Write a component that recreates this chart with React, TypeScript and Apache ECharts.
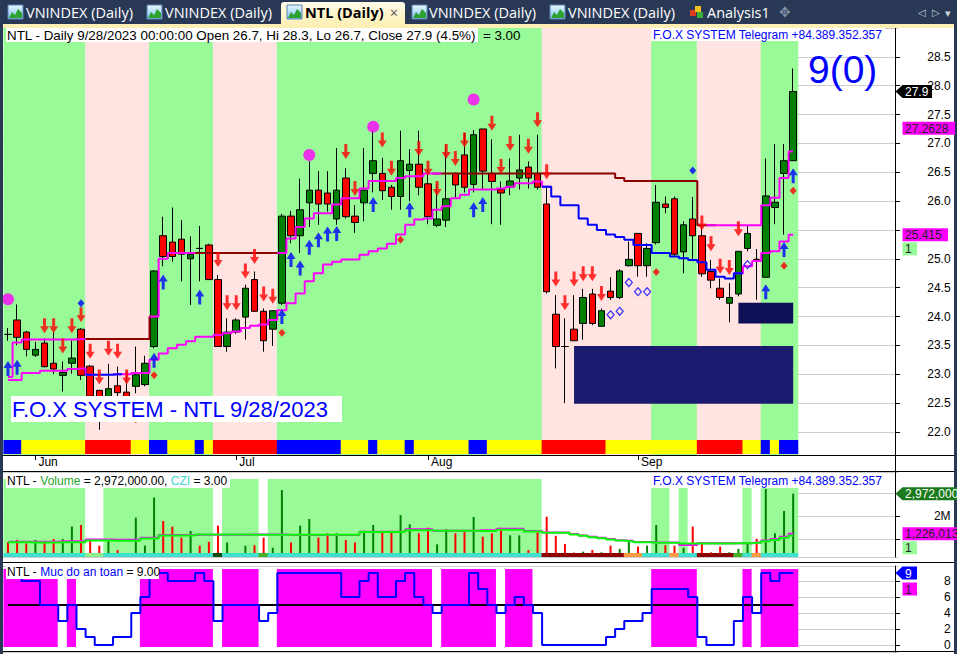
import React, { useEffect, useRef } from "react";
import * as echarts from "echarts";

// ---------------- DATA ----------------
const tradingDays: string[] = [
  "2023-05-29", "2023-05-30", "2023-05-31",
  "2023-06-01", "2023-06-02", "2023-06-05", "2023-06-06", "2023-06-07", "2023-06-08", "2023-06-09",
  "2023-06-12", "2023-06-13", "2023-06-14", "2023-06-15", "2023-06-16", "2023-06-19", "2023-06-20",
  "2023-06-21", "2023-06-22", "2023-06-23", "2023-06-26", "2023-06-27", "2023-06-28", "2023-06-29", "2023-06-30",
  "2023-07-03", "2023-07-04", "2023-07-05", "2023-07-06", "2023-07-07", "2023-07-10", "2023-07-11",
  "2023-07-12", "2023-07-13", "2023-07-14", "2023-07-17", "2023-07-18", "2023-07-19", "2023-07-20",
  "2023-07-21", "2023-07-24", "2023-07-25", "2023-07-26", "2023-07-27", "2023-07-28", "2023-07-31",
  "2023-08-01", "2023-08-02", "2023-08-03", "2023-08-04", "2023-08-07", "2023-08-08", "2023-08-09",
  "2023-08-10", "2023-08-11", "2023-08-14", "2023-08-15", "2023-08-16", "2023-08-17", "2023-08-18",
  "2023-08-21", "2023-08-22", "2023-08-23", "2023-08-24", "2023-08-25", "2023-08-28", "2023-08-29",
  "2023-08-30", "2023-08-31",
  "2023-09-05", "2023-09-06", "2023-09-07", "2023-09-08", "2023-09-11", "2023-09-12", "2023-09-13",
  "2023-09-14", "2023-09-15", "2023-09-18", "2023-09-19", "2023-09-20", "2023-09-21", "2023-09-22",
  "2023-09-25", "2023-09-26", "2023-09-27", "2023-09-28",
];

const monthNames = ["Jan", "Feb", "Mar", "Apr", "May", "Jun", "Jul", "Aug", "Sep", "Oct", "Nov", "Dec"];

const opens = [
  23.69, 23.94, 23.73, 23.33, 23.54, 23.19, 22.98, 23.19, 23.78, 23.14,
  22.72, 22.60, 22.80, 22.69, 22.79, 22.82, 23.48, 25.40, 25.29, 25.34,
  25.00, 25.18, 25.24, 24.64, 23.48, 23.73, 23.99, 24.64, 24.09, 23.78,
  24.23, 25.74, 25.40, 25.97, 26.19, 26.14, 25.69, 26.40, 25.74, 25.97,
  26.48, 26.48, 26.24, 26.08, 26.53, 26.64, 26.30, 25.58, 25.67, 26.48,
  26.80, 26.29, 27.25, 26.48, 26.20, 26.24, 26.40, 26.59, 26.48, 25.95,
  24.04, 23.48, 23.78, 23.88, 24.39, 23.83, 24.44, 24.33, 24.88, 25.44,
  24.88, 25.28, 25.95, 26.04, 25.12, 25.69, 25.40, 24.78, 24.49, 24.23,
  24.39, 25.18, 24.99, 24.68, 25.89, 26.48, 26.70,
];
const highs = [
  23.80, 24.21, 23.75, 23.56, 23.62, 23.73, 23.22, 23.58, 23.80, 23.16,
  22.73, 23.18, 23.13, 23.05, 23.48, 23.32, 24.80, 25.73, 25.89, 25.67,
  25.39, 25.57, 25.26, 24.72, 23.97, 23.97, 24.55, 24.78, 24.14, 24.11,
  25.78, 25.83, 26.39, 26.69, 26.52, 26.52, 26.92, 26.57, 25.93, 26.92,
  27.22, 26.75, 26.28, 27.22, 26.90, 27.22, 26.55, 26.30, 26.97, 26.50,
  27.18, 27.23, 27.25, 27.07, 26.34, 26.74, 27.15, 26.69, 27.15, 26.25,
  24.37, 23.97, 24.37, 24.48, 24.48, 24.14, 24.68, 24.82, 25.30, 25.44,
  25.27, 26.28, 26.08, 26.08, 25.65, 26.07, 25.59, 24.98, 24.66, 24.58,
  25.13, 25.59, 25.17, 26.74, 26.99, 26.99, 28.30,
];
const lows = [
  23.58, 23.50, 23.31, 23.30, 23.12, 23.00, 22.70, 23.01, 22.90, 22.55,
  22.04, 22.50, 22.55, 22.40, 22.67, 22.79, 23.45, 24.87, 24.95, 24.61,
  24.20, 24.61, 24.64, 23.48, 23.39, 23.70, 23.60, 24.09, 23.39, 23.49,
  24.20, 25.27, 25.10, 25.55, 25.59, 25.82, 25.59, 25.70, 25.45, 25.65,
  26.15, 26.02, 25.85, 25.85, 26.00, 26.10, 25.60, 25.55, 25.55, 26.05,
  26.15, 26.15, 26.20, 25.60, 25.59, 26.10, 26.20, 26.22, 26.20, 24.40,
  23.10, 22.50, 23.58, 23.60, 23.85, 23.83, 24.29, 24.30, 24.87, 24.69,
  24.69, 25.25, 25.79, 25.05, 24.75, 25.00, 24.69, 24.49, 24.29, 23.90,
  24.35, 25.13, 24.29, 24.68, 25.60, 25.42, 26.70,
];
const closes = [
  23.69, 23.64, 23.43, 23.43, 23.13, 23.09, 23.03, 23.28, 22.98, 22.62,
  22.55, 22.75, 22.68, 22.50, 22.99, 23.19, 24.79, 25.04, 25.04, 25.08,
  25.08, 25.18, 24.64, 23.48, 23.73, 23.94, 24.49, 24.09, 23.58, 24.10,
  25.74, 25.40, 25.85, 26.19, 25.95, 25.95, 26.19, 25.73, 25.63, 26.19,
  26.70, 26.18, 26.08, 26.70, 26.64, 26.24, 25.73, 25.69, 26.04, 26.28,
  26.24, 27.15, 26.52, 26.34, 26.14, 26.35, 26.54, 26.40, 26.24, 24.43,
  23.48, 23.48, 23.58, 24.33, 23.88, 24.10, 24.33, 24.79, 24.99, 24.88,
  25.18, 25.98, 25.89, 25.08, 25.59, 25.40, 24.74, 24.63, 24.33, 24.33,
  25.13, 25.44, 24.99, 26.09, 25.98, 26.70, 27.90,
];

// trailing stop (upper) line and its state: M = active (magenta), B = flat (dark red)
const stopLine = [
  22.95, 23.55, 23.60, 23.60, 23.60, 23.60, 23.60, 23.60, 23.61, 23.61,
  23.61, 23.61, 23.61, 23.61, 23.61, 23.61, 24.00, 25.00, 25.10, 25.10,
  25.10, 25.10, 25.10, 25.10, 25.10, 25.10, 25.10, 25.10, 25.10, 25.10,
  25.10, 25.35, 25.55, 25.70, 25.79, 25.79, 25.94, 26.05, 26.05, 26.22,
  26.35, 26.35, 26.35, 26.40, 26.43, 26.43, 26.48, 26.48, 26.48, 26.48,
  26.48, 26.48, 26.48, 26.48, 26.48, 26.48, 26.48, 26.48, 26.48, 26.48,
  26.48, 26.48, 26.48, 26.48, 26.48, 26.48, 26.48, 26.40, 26.35, 26.35,
  26.35, 26.35, 26.35, 26.35, 26.35, 26.35, 25.58, 25.58, 25.58, 25.58,
  25.58, 25.58, 25.58, 25.93, 26.06, 26.40, 26.86,
];
const stopLineState: [string, number][] = [["M", 8], ["B", 8], ["M", 4], ["B", 10], ["M", 17], ["B", 30], ["M", 10]];

// trend (lower) line and its state: M = rising (magenta), U = falling (blue)
const trendLine = [
  22.90, 22.90, 23.02, 23.02, 23.06, 23.06, 23.06, 23.09, 23.10, 22.99,
  22.99, 22.99, 23.00, 23.00, 23.02, 23.02, 23.25, 23.36, 23.45, 23.51,
  23.57, 23.65, 23.65, 23.68, 23.71, 23.74, 23.80, 23.84, 23.86, 23.94,
  24.11, 24.23, 24.40, 24.61, 24.75, 24.90, 24.95, 24.99, 24.99, 25.07,
  25.13, 25.18, 25.26, 25.42, 25.59, 25.68, 25.70, 25.85, 25.91, 26.05,
  26.11, 26.20, 26.20, 26.20, 26.22, 26.25, 26.31, 26.31, 26.34, 26.25,
  26.08, 25.93, 25.93, 25.70, 25.59, 25.50, 25.42, 25.38, 25.33, 25.24,
  25.24, 25.10, 25.10, 25.04, 25.01, 24.98, 24.94, 24.81, 24.69, 24.66,
  24.75, 24.87, 24.96, 25.10, 25.13, 25.30, 25.415,
];
const trendLineState: [string, number][] = [["M", 9], ["U", 3], ["M", 47], ["U", 21], ["M", 7]];

// signals: [bar index, price]
const sellArrows: [number, number][] = [
  [4, 23.84], [5, 23.84], [6, 23.49], [7, 23.84], [8, 24.03], [9, 23.40], [10, 22.95], [11, 23.45],
  [12, 23.40], [13, 22.95], [23, 24.99], [24, 24.24], [25, 24.24], [26, 24.79], [27, 25.04], [28, 24.39],
  [29, 24.35], [37, 26.86], [38, 26.22], [41, 27.06], [42, 26.57], [45, 26.91], [46, 26.57], [47, 26.22],
  [48, 26.86], [49, 26.74], [50, 27.06], [53, 27.35], [54, 26.60], [55, 27.0], [57, 26.95], [58, 27.41],
  [59, 26.51], [60, 24.65], [61, 24.24], [62, 24.65], [63, 24.74], [64, 24.74], [65, 24.40],
  [76, 25.62], [77, 25.26], [78, 24.87], [79, 24.85], [80, 25.52],
];
const buyArrows: [number, number][] = [
  [0, 23.10], [1, 23.12], [16, 23.24], [17, 24.60], [21, 24.34], [30, 24.00], [31, 24.99], [32, 24.84],
  [33, 25.20], [34, 25.33], [35, 25.43], [36, 25.44], [40, 25.94], [44, 25.85], [51, 25.85], [52, 25.94],
  [83, 24.43], [85, 25.16], [86, 26.44],
];
const topCircles: [number, number][] = [[0, 24.30], [33, 26.80], [40, 27.29], [51, 27.76]];
const blueDiamonds: [number, number][] = [[8, 24.23], [75, 26.53]];
const redDiamonds: [number, number][] = [[14, 22.22], [16, 22.98], [30, 23.72], [43, 25.33], [71, 24.77], [85, 24.88], [86, 26.18]];
const openDiamonds: [number, number][] = [[66, 24.03], [67, 24.09], [68, 24.59], [69, 24.43], [70, 24.43], [81, 24.90]];

// zones: [from bar, to bar, low, high]
const zones: [number, number, number, number][] = [[62, 86, 22.49, 23.49], [80, 86, 23.88, 24.24]];

// background states per bar
const priceBand: [string, number][] = [["G", 9], ["P", 7], ["G", 7], ["P", 7], ["G", 29], ["P", 12], ["G", 5], ["P", 7], ["G", 4]];
const ribbon: [string, number][] = [
  ["B", 2], ["Y", 7], ["R", 5], ["Y", 2], ["B", 2], ["Y", 3], ["B", 1], ["Y", 1], ["R", 7], ["B", 7], ["Y", 3], ["B", 1],
  ["Y", 3], ["B", 1], ["Y", 6], ["B", 2], ["Y", 6], ["R", 7], ["Y", 10], ["R", 5], ["Y", 2], ["B", 1], ["Y", 1], ["B", 2],
];
const volBand: [string, number][] = [
  ["G", 9], ["W", 2], ["G", 12], ["W", 1], ["G", 4], ["W", 1], ["G", 30], ["W", 12], ["G", 2], ["W", 1], ["G", 1], ["W", 6], ["G", 1], ["W", 1], ["G", 4],
];
const volStrip: [string, number][] = [
  ["T", 9], ["L", 2], ["T", 12], ["D", 1], ["T", 4], ["G", 1], ["T", 30], ["R", 9], ["O", 2], ["T", 3], ["O", 1], ["T", 2], ["R", 4], ["G", 1], ["T", 1], ["O", 1], ["T", 4],
];

// volume, millions
const volumes = [
  0.86, 0.96, 0.81, 0.96, 0.86, 1.00, 1.00, 1.54, 1.61, 0.91,
  0.71, 0.91, 0.52, 0.38, 1.93, 0.71, 2.80, 1.78, 1.54, 1.06,
  1.35, 0.71, 0.88, 1.58, 0.85, 0.33, 0.71, 0.73, 1.06, 0.62,
  3.13, 0.85, 1.58, 1.87, 1.06, 1.25, 1.25, 0.96, 0.85, 1.35,
  1.61, 1.35, 1.35, 2.04, 1.64, 1.25, 1.49, 0.77, 1.43, 1.25,
  1.30, 1.96, 1.10, 1.25, 1.49, 1.16, 1.16, 0.52, 1.30, 1.97,
  1.14, 0.78, 0.41, 0.45, 0.52, 0.42, 0.71, 0.57, 0.91, 0.67,
  0.71, 1.61, 0.73, 0.71, 0.62, 1.54, 0.86, 0.42, 0.67, 0.42,
  0.57, 0.81, 1.01, 3.17, 1.25, 2.22, 2.972,
];
const volAvgMagenta = [
  0.88, 0.88, 0.88, 0.88, 0.88, 0.88, 0.90, 0.90, 0.90, 0.98,
  0.98, 0.98, 0.97, 0.97, 0.97, 1.05, 1.05, 1.17, 1.17, 1.17,
  1.17, 1.18, 1.18, 1.18, 1.18, 1.18, 1.18, 1.20, 1.20, 1.20,
  1.20, 1.17, 1.17, 1.17, 1.17, 1.17, 1.17, 1.17, 1.17, 1.32,
  1.32, 1.32, 1.32, 1.32, 1.42, 1.42, 1.42, 1.36, 1.36, 1.36,
  1.36, 1.36, 1.38, 1.38, 1.45, 1.45, 1.45, 1.35, 1.35, 1.28,
  1.28, 1.28, 1.22, 1.15, 1.10, 1.05, 1.00, 0.95, 0.92, 0.87,
  0.87, 0.85, 0.85, 0.85, 0.74, 0.74, 0.81, 0.81, 0.81, 0.81,
  0.82, 0.82, 0.85, 0.93, 1.00, 1.10, 1.226,
];
const volAvgGreen = [
  0.86, 0.86, 0.86, 0.85, 0.85, 0.85, 0.86, 0.86, 0.86, 0.93,
  0.93, 0.93, 0.92, 0.92, 0.92, 1.02, 1.02, 1.15, 1.15, 1.15,
  1.15, 1.20, 1.20, 1.20, 1.20, 1.20, 1.20, 1.19, 1.19, 1.19,
  1.19, 1.19, 1.19, 1.19, 1.19, 1.19, 1.19, 1.19, 1.19, 1.30,
  1.30, 1.30, 1.30, 1.30, 1.38, 1.38, 1.38, 1.36, 1.36, 1.36,
  1.36, 1.36, 1.35, 1.35, 1.40, 1.40, 1.40, 1.33, 1.33, 1.27,
  1.27, 1.27, 1.20, 1.14, 1.08, 1.03, 0.98, 0.93, 0.90, 0.86,
  0.86, 0.84, 0.84, 0.84, 0.80, 0.80, 0.80, 0.80, 0.80, 0.80,
  0.81, 0.81, 0.84, 0.90, 0.96, 1.05, 1.15,
];

// safety level ("Muc do an toan")
const safety = [
  9, 9, 8, 8, 5, 5, 3, 5, 2, 1,
  0, 0, 1, 1, 4, 6, 9, 9, 8, 8,
  8, 9, 8, 3, 5, 5, 5, 5, 3, 4,
  9, 9, 9, 9, 9, 9, 9, 6, 6, 8,
  9, 6, 6, 8, 9, 6, 5, 4, 5, 5,
  5, 9, 7, 5, 4, 5, 6, 5, 4, 0,
  0, 0, 0, 0, 0, 0, 1, 2, 3, 3,
  4, 7, 7, 7, 7, 6, 1, 0, 0, 0,
  3, 6, 4, 9, 8, 9, 9,
];
const safetyThreshold = 5;

// axis labels that sit under a value tag in the reference (hidden there)
const hiddenPriceLabels = [25.5];
const shownVolumeLabels = [2];

// ---------------- STYLE ----------------
const FONT = '"Liberation Sans", Arial, Helvetica, sans-serif';
const TAB_FONT = '"Open Sans", "Noto Sans", sans-serif';
const PAD = 11;
const STEP = 9.13;
const LEFT = 3.43;

const bandColor: Record<string, string> = { G: "#98fb98", P: "#ffe4e1", W: "#ffffff", M: "#ff00ff" };
const ribbonColor: Record<string, string> = { B: "#0000ff", Y: "#ffff00", R: "#ff0000" };
const stripColor: Record<string, string> = { T: "#40e0d0", L: "#90ee90", D: "#0f4d0f", G: "#44b02a", R: "#8b0000", O: "#ff9b45" };
const zoneColors = ["#1a1a6e", "#0f0f58"];
const ARROW_DOWN = "path://M3,0L6,0L6,8L9,8L4.5,15L0,8L3,8Z";
const ARROW_UP = "path://M4.5,0L9,7L6,7L6,15L3,15L3,7L0,7Z";

function expand(runs: [string, number][]): string[] {
  const out: string[] = [];
  runs.forEach(([c, n]) => {
    for (let k = 0; k < n; k++) out.push(c);
  });
  return out;
}

function segment(values: number[], states: string[], code: string) {
  return values.map((v, i) => (states[i] === code || (i > 0 && states[i - 1] === code) ? v : null));
}

function buildOption() {
  const categories = [...tradingDays, ...Array.from({ length: PAD }, (_, k) => `pad-${k}`)];
  const WIDTH = STEP * categories.length;
  const isMonthStart = (i: number) =>
    i > 0 && i < tradingDays.length && tradingDays[i].slice(5, 7) !== tradingDays[i - 1].slice(5, 7);

  const gridDefs = [
    [28, 427], // 0 price
    [28, 427], // 1 price background
    [440, 14], // 2 ribbon
    [472, 85], // 3 volume
    [479, 74], // 4 volume background
    [553, 4], // 5 volume strip
    [566, 86], // 6 safety
    [569, 78], // 7 safety background
  ];
  const grid = gridDefs.map(([top, height]) => ({ left: LEFT, top, width: WIDTH, height }));

  const xAxis = gridDefs.map((_, k) => {
    if (k !== 0) return { type: "category", gridIndex: k, data: categories, show: false };
    return {
      type: "category",
      gridIndex: 0,
      data: categories,
      axisLine: { show: true, lineStyle: { color: "#000", width: 1 } },
      axisTick: { show: true, interval: (i: number) => isMonthStart(i), alignWithLabel: true, length: 5, lineStyle: { color: "#000" } },
      axisLabel: {
        interval: (i: number) => isMonthStart(i),
        formatter: (v: string) => monthNames[Number(v.slice(5, 7)) - 1],
        align: "left",
        padding: [0, 0, 0, 3],
        margin: 1,
        color: "#000",
        fontSize: 12,
        fontFamily: FONT,
      },
      splitLine: { show: false },
    };
  });

  const mainAxis = (k: number, min: number, max: number, splitNumber: number, fmt: (v: number) => string) => ({
    type: "value",
    gridIndex: k,
    position: "right",
    offset: -3.1,
    min,
    max,
    splitNumber,
    axisLine: { show: true, lineStyle: { color: "#000", width: 1 } },
    axisTick: { show: true, length: 5, lineStyle: { color: "#000" } },
    axisLabel: {
      showMinLabel: false,
      showMaxLabel: false,
      formatter: fmt,
      align: "right",
      margin: 55.5,
      color: "#000",
      fontSize: 12,
      fontFamily: FONT,
    },
    splitLine: { show: true, lineStyle: { type: "dotted", color: "#9a9a9a", width: 1 } },
  });
  const hiddenAxis = (k: number) => ({ type: "value", gridIndex: k, min: 0, max: 1, show: false });

  const yAxis = [
    mainAxis(0, 21.6, 29.0, 15, (v) => (hiddenPriceLabels.some((h) => Math.abs(h - v) < 1e-6) ? "" : v.toFixed(1))),
    hiddenAxis(1),
    hiddenAxis(2),
    mainAxis(3, 5 / 23, 90 / 23, 4, (v) => (shownVolumeLabels.some((s) => Math.abs(s - v) < 1e-6) ? `${Math.round(v)}M` : "")),
    hiddenAxis(4),
    hiddenAxis(5),
    mainAxis(6, -0.875, 9.875, 5, (v) => (v >= 0 && v <= 8 ? String(Math.round(v)) : "")),
    hiddenAxis(7),
  ];

  // background bars are made slightly wider than a bar slot so that neighbours overlap without seams
  const bgBars = (k: number, states: string[], colors: Record<string, string>, z = 1) => ({
    type: "bar",
    xAxisIndex: k,
    yAxisIndex: k,
    barWidth: STEP + 1,
    silent: true,
    z,
    data: states.map((c) => ({ value: 1, itemStyle: { color: colors[c] } })),
  });

  const stopStates = expand(stopLineState);
  const trendStates = expand(trendLineState);
  const safetyStates = safety.map((v) => (v >= safetyThreshold ? "M" : "W"));

  const stepLine = (k: number, data: (number | null)[], color: string, z = 6, width = 2) => ({
    type: "line",
    xAxisIndex: k,
    yAxisIndex: k,
    step: "middle",
    symbol: "none",
    silent: true,
    z,
    lineStyle: { color, width },
    data,
  });

  const marks = (data: [number, number][], symbol: string, size: any, itemStyle: any, z = 8) => ({
    type: "scatter",
    xAxisIndex: 0,
    yAxisIndex: 0,
    symbol,
    symbolSize: size,
    silent: true,
    z,
    itemStyle,
    data,
  });

  const series: any[] = [
    bgBars(1, expand(priceBand), bandColor),
    bgBars(2, expand(ribbon), ribbonColor, 2),
    {
      type: "candlestick",
      xAxisIndex: 0,
      yAxisIndex: 0,
      barWidth: 7,
      z: 5,
      silent: true,
      itemStyle: { color: "#008000", color0: "#ff0000", borderColor: "#000", borderColor0: "#000", borderWidth: 1 },
      data: opens.map((o, i) => [o, closes[i], lows[i], highs[i]]),
      markArea: {
        silent: true,
        z: 3,
        itemStyle: { opacity: 1 },
        data: zones.map(([a, b, lo, hi], k) => [
          { xAxis: tradingDays[a], yAxis: lo, itemStyle: { color: zoneColors[k], opacity: 1 } },
          { xAxis: tradingDays[b], yAxis: hi },
        ]),
      },
    },
    stepLine(0, segment(trendLine, trendStates, "M"), "#ff00ff"),
    stepLine(0, segment(trendLine, trendStates, "U"), "#0000ff"),
    stepLine(0, segment(stopLine, stopStates, "B"), "#8b0000"),
    stepLine(0, segment(stopLine, stopStates, "M"), "#ff00ff"),
    marks(sellArrows, ARROW_DOWN, [9, 15], { color: "#ff0000" }),
    marks(buyArrows, ARROW_UP, [9, 15], { color: "#0000ff" }),
    marks(topCircles, "circle", 12, { color: "#ff00ff" }),
    marks(blueDiamonds, "diamond", [7, 8], { color: "#0000ff" }),
    marks(redDiamonds, "diamond", [7, 8], { color: "#ff0000" }),
    marks(openDiamonds, "diamond", [7, 8], { color: "rgba(0,0,0,0)", borderColor: "#0000ff", borderWidth: 1.2 }),
    // volume pane
    bgBars(4, expand(volBand), bandColor),
    bgBars(5, expand(volStrip), stripColor, 6),
    {
      type: "bar",
      xAxisIndex: 3,
      yAxisIndex: 3,
      barWidth: 2,
      silent: true,
      z: 4,
      data: volumes.map((v, i) => ({ value: v, itemStyle: { color: closes[i] > opens[i] ? "#008000" : "#ff0000" } })),
    },
    stepLine(3, volAvgMagenta, "#ff00ff", 5),
    stepLine(3, volAvgGreen, "#00ff00", 5),
    // safety pane
    bgBars(7, safetyStates, bandColor),
    stepLine(6, safety.map(() => safetyThreshold), "#000000", 5),
    stepLine(6, safety, "#0000ff", 6),
  ];

  return { animation: false, backgroundColor: "#ffffff", grid, xAxis, yAxis, series };
}

function buildGraphics(chart: any) {
  const Z = 100;
  const py = (axis: number, v: number) => chart.convertToPixel({ yAxisIndex: axis }, v) as number;
  const els: any[] = [];
  const rect = (x: number, y: number, w: number, h: number, fill: any, extra: any = {}) =>
    els.push({ type: "rect", z: Z, silent: true, shape: { x, y, width: w, height: h, r: extra.r || 0 }, style: { fill, stroke: extra.stroke || null, lineWidth: extra.lw || 0 } });
  const line = (x1: number, y1: number, x2: number, y2: number, color = "#000") =>
    els.push({ type: "line", z: Z + 1, silent: true, shape: { x1, y1, x2, y2 }, style: { stroke: color, lineWidth: 1 } });
  const text = (x: number, y: number, t: string, size: number, fill: string, opt: any = {}) =>
    els.push({
      type: "text",
      z: Z + 2,
      silent: true,
      x,
      y,
      style: {
        text: t,
        fill,
        fontSize: size,
        fontFamily: opt.family || FONT,
        fontWeight: opt.weight || "normal",
        align: opt.align || "left",
        verticalAlign: "middle",
        rich: opt.rich,
      },
    });

  // tab bar
  rect(0, 0, 957, 25, "#293955");
  rect(0, 24, 957, 4, "#fdefb5");
  rect(281, 2, 124, 23, new echarts.graphic.LinearGradient(0, 0, 0, 1, [{ offset: 0, color: "#fffbe9" }, { offset: 1, color: "#fdefb5" }]), { r: [3, 3, 0, 0] });
  const icon = (x: number) => {
    rect(x, 5, 15, 14, new echarts.graphic.LinearGradient(0, 0, 0, 1, [{ offset: 0, color: "#e8f6ff" }, { offset: 1, color: "#7cc4f4" }]), { stroke: "#5b82b5", lw: 1 });
    els.push({ type: "polygon", z: Z + 1, silent: true, shape: { points: [[x + 1, 18], [x + 4, 12], [x + 7, 15], [x + 10, 9], [x + 14, 13], [x + 14, 18]] }, style: { fill: "#2fa12f" } });
  };
  [8, 147, 287, 412, 550].forEach(icon);
  text(26, 12.5, "VNINDEX (Daily)", 14.5, "#ffffff", { family: TAB_FONT });
  text(165, 12.5, "VNINDEX (Daily)", 14.5, "#ffffff", { family: TAB_FONT });
  text(305, 12.5, "NTL (Daily)", 14.5, "#000000", { family: TAB_FONT, weight: "bold" });
  text(390, 12, "×", 14, "#555555", { family: TAB_FONT });
  text(429, 12.5, "VNINDEX (Daily)", 14.5, "#ffffff", { family: TAB_FONT });
  text(568, 12.5, "VNINDEX (Daily)", 14.5, "#ffffff", { family: TAB_FONT });
  rect(690, 10, 6, 6, "#e03a1e");
  rect(695, 6, 6, 6, "#f2c21a");
  rect(697, 12, 6, 6, "#3cae3c");
  text(707, 12.5, "Analysis1", 14.5, "#ffffff", { family: TAB_FONT });
  text(779, 12, "✥", 14, "#8090a8", { family: '"DejaVu Sans", sans-serif' });
  text(918, 12, "◁", 10, "#c8d0dc", { family: '"DejaVu Sans", sans-serif' });
  text(932, 12, "▷", 10, "#c8d0dc", { family: '"DejaVu Sans", sans-serif' });
  text(945, 13, "▾", 11, "#c8d0dc", { family: '"DejaVu Sans", sans-serif' });

  // frame
  rect(0, 24, 3, 630, "#293955");
  rect(954, 24, 3, 630, "#293955");
  [455.5, 471.5, 562.5, 651.5].forEach((y) => line(3, y, 954, y));
  line(895.5, 455, 895.5, 472);

  // title boxes
  rect(6, 28, 472, 14, "#ffffff");
  text(7, 35, "NTL - Daily 9/28/2023 00:00:00 Open 26.7, Hi 28.3, Lo 26.7, Close 27.9 (4.5%)\u00a0\u00a0= 3.00", 13.4, "#000000");
  rect(651, 28, 234, 13, "#ffffff");
  text(653, 34.5, "F.O.X SYSTEM Telegram +84.389.352.357", 12, "#0000ff");
  text(808, 69, "9(0)", 39, "#0000ff");
  rect(11, 396, 331, 26, "#ffffff");
  text(12, 409.5, "F.O.X SYSTEM - NTL 9/28/2023", 22, "#0000ff");

  rect(6, 474, 224, 14, "#ffffff");
  const rp = (c: string) => ({ fill: c, fontSize: 12, fontFamily: FONT });
  text(7, 481, "{k|NTL - }{g|Volume}{k| = 2,972,000.00, }{c|CZI}{k| = 3.00}", 12, "#000", {
    rich: { k: rp("#000000"), g: rp("#1fa51f"), c: rp("#40d8d0") },
  });
  rect(651, 474, 234, 14, "#ffffff");
  text(653, 481, "F.O.X SYSTEM Telegram +84.389.352.357", 12, "#0000ff");

  rect(6, 565, 153, 14, "#ffffff");
  text(7, 572, "{k|NTL - }{b|Muc do an toan}{k| = 9.00}", 12, "#000", {
    rich: { k: rp("#000000"), b: rp("#0000ff") },
  });

  // value tags on the axes
  const tag = (y: number, x1: number, bg: string, fg: string, t: string, pointer: boolean) => {
    if (pointer) {
      els.push({ type: "polygon", z: Z + 1, silent: true, shape: { points: [[895.5, y], [902.5, y - 6.5], [x1, y - 6.5], [x1, y + 6.5], [902.5, y + 6.5]] }, style: { fill: bg } });
    } else {
      rect(902.5, y - 6.5, x1 - 902.5, 13, bg);
    }
    text(905, y + 0.5, t, 12, fg);
  };
  const yClose = py(0, closes[closes.length - 1]);
  tag(yClose, 932, "#000000", "#ffffff", "27.9", true);
  tag(py(0, 27.2628), 955, "#ff00ff", "#222222", "27.2628", false);
  const yTrend = py(0, trendLine[trendLine.length - 1]);
  tag(yTrend, 948, "#ff00ff", "#222222", "25.415", false);
  tag(yTrend + 14, 917, "#98fb98", "#222222", "1", false);

  const yVol = py(3, volumes[volumes.length - 1]);
  tag(yVol, 957, "#1b7a1b", "#ffffff", "2,972,000", true);
  const yVolAvg = py(3, volAvgMagenta[volAvgMagenta.length - 1]);
  tag(yVolAvg, 957, "#ff00ff", "#222222", "1,226,013", false);
  tag(yVolAvg + 14, 917, "#98fb98", "#222222", "1", false);

  const ySafe = py(6, safety[safety.length - 1]);
  tag(ySafe, 917, "#0000ff", "#ffffff", "9", true);
  tag(ySafe + 16, 917, "#ff00ff", "#222222", "1", false);

  return els;
}

export default function App() {
  const ref = useRef<HTMLDivElement>(null);
  useEffect(() => {
    document.body.style.margin = "0";
    const el = ref.current as HTMLDivElement;
    const chart = echarts.init(el, null, { renderer: "svg" });
    chart.setOption(buildOption() as any);
    chart.setOption({ graphic: { elements: buildGraphics(chart) } } as any);
    return () => chart.dispose();
  }, []);
  return <div ref={ref} style={{ width: 957, height: 654 }} />;
}
